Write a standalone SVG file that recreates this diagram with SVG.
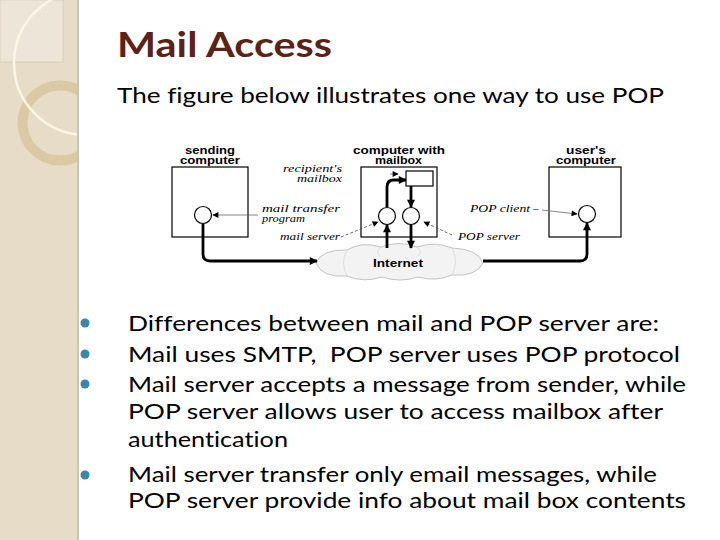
<svg xmlns="http://www.w3.org/2000/svg" width="720" height="540" viewBox="0 0 720 540">
<defs>
<clipPath id="side"><rect x="0" y="0" width="78" height="540"/></clipPath>
<marker id="ah" viewBox="0 0 10 10" refX="9" refY="5" markerWidth="9" markerHeight="8" markerUnits="userSpaceOnUse" orient="auto"><path d="M0,0 L10,5 L0,10 Z" fill="#000"/></marker>
<marker id="ahs" viewBox="0 0 10 10" refX="9" refY="5" markerWidth="7" markerHeight="6" markerUnits="userSpaceOnUse" orient="auto"><path d="M0,0 L10,5 L0,10 Z" fill="#000"/></marker>
</defs>
<style>
text{font-variant-ligatures:none}
.title{font-family:"Lato","Open Sans",sans-serif;font-weight:bold;font-size:34px;fill:#5a2317}
.sub{font-family:"Lato","Open Sans",sans-serif;font-size:22px;fill:#000}
.body{font-family:"Lato","Open Sans",sans-serif;font-size:22px;fill:#000}
.lbl{font-family:"Liberation Sans",Arial,sans-serif;font-weight:bold;font-size:10px;fill:#000}
.it{font-family:"Liberation Serif","Times New Roman",serif;font-style:italic;font-size:11px;fill:#000}
.it2{font-family:"Liberation Serif","Times New Roman",serif;font-style:italic;font-size:9.5px;fill:#000}
.box{fill:#fff;stroke:#000;stroke-width:1.2}
.node{fill:#fff;stroke:#000;stroke-width:1.2}
.thick{fill:none;stroke:#000;stroke-width:2.8;marker-end:url(#ah)}
.thin{fill:none;stroke:#666;stroke-width:0.8;marker-end:url(#ahs)}
.dash{fill:none;stroke:#444;stroke-width:0.8;stroke-dasharray:3 2;marker-end:url(#ahs)}
.bul{fill:#3a87a6}
</style>
<rect width="720" height="540" fill="#fff"/>
<g id="sidebar">
<rect x="0" y="0" width="78" height="540" fill="#e6dcc8"/>
<g clip-path="url(#side)">
<rect x="0" y="0" width="63" height="62" fill="#ede6d8" stroke="#cfc3aa" stroke-width="0.6"/>
<circle cx="60" cy="123" r="37.5" fill="none" stroke="#dbc9a3" stroke-width="10"/>
<circle cx="86" cy="63" r="72" fill="none" stroke="#fbf6e6" stroke-width="2.5"/>
</g>
<rect x="77" y="0" width="2" height="540" fill="#cbc3b3"/>
</g>
<g id="title"><text class="title" x="117" y="57" textLength="215" lengthAdjust="spacingAndGlyphs">Mail Access</text></g>
<g id="subtitle"><text class="sub" x="117" y="103" textLength="547" lengthAdjust="spacingAndGlyphs">The figure below illustrates one way to use POP</text></g>

<g id="sending">
<text class="lbl" x="185" y="154" textLength="50" lengthAdjust="spacingAndGlyphs">sending</text>
<text class="lbl" x="180" y="164" textLength="60" lengthAdjust="spacingAndGlyphs">computer</text>
<rect class="box" x="172" y="167" width="76" height="70"/>
<ellipse class="node" cx="203" cy="215" rx="8.5" ry="8.5"/>
</g>
<g id="mailbox-computer">
<text class="lbl" x="353" y="154" textLength="92" lengthAdjust="spacingAndGlyphs">computer with</text>
<text class="lbl" x="375" y="164" textLength="47" lengthAdjust="spacingAndGlyphs">mailbox</text>
<rect class="box" x="361" y="167" width="76" height="70"/>
<rect class="box" x="406" y="171" width="27" height="15"/>
<ellipse class="node" cx="387" cy="216" rx="8.5" ry="8.5"/>
<ellipse class="node" cx="411" cy="216" rx="8.5" ry="8.5"/>
</g>
<g id="user-computer">
<text class="lbl" x="566" y="154" textLength="40" lengthAdjust="spacingAndGlyphs">user's</text>
<text class="lbl" x="556" y="164" textLength="60" lengthAdjust="spacingAndGlyphs">computer</text>
<rect class="box" x="549" y="167" width="72" height="70"/>
<ellipse class="node" cx="587" cy="214" rx="8.5" ry="8.5"/>
</g>
<g id="internet">
<path d="M316,263 Q322,249 347,250 Q362,241 381,247 Q399,240 417,247 Q435,241 452,248 Q478,249 483,263 Q476,277 452,275 Q436,282 418,277 Q400,283 382,277 Q364,283 347,276 Q322,278 316,263 Z" fill="#f3f3f3" stroke="#b5b5b5" stroke-width="0.8"/>
<path d="M347,250 Q340,262 347,276 M452,248 Q459,262 452,275 M381,247 Q375,252 380,256 M417,247 Q423,252 418,256" fill="none" stroke="#cfcfcf" stroke-width="0.6"/>
<text class="lbl" x="373" y="267" font-size="12px" textLength="50" lengthAdjust="spacingAndGlyphs">Internet</text>
</g>
<g id="labels">
<text class="it2" x="283" y="172" textLength="59" lengthAdjust="spacingAndGlyphs">recipient's</text>
<text class="it2" x="297" y="182" textLength="45" lengthAdjust="spacingAndGlyphs">mailbox</text>
<text class="it2" x="262" y="212" textLength="78" lengthAdjust="spacingAndGlyphs">mail transfer</text>
<text class="it2" x="262" y="222" textLength="43" lengthAdjust="spacingAndGlyphs">program</text>
<text class="it" x="280" y="240" textLength="60" lengthAdjust="spacingAndGlyphs">mail server</text>
<text class="it" x="458" y="240" textLength="62" lengthAdjust="spacingAndGlyphs">POP server</text>
<text class="it" x="470" y="212" textLength="60" lengthAdjust="spacingAndGlyphs">POP client</text>
<text class="it" x="533" y="212">–</text>
</g>
<g id="connectors">
<path class="thick" d="M203,224 V254 Q203,261 210,261 H317"/>
<path class="thick" d="M387,248 V225"/>
<path class="thick" d="M387,207 V187 Q387,180 394,180 H406"/>
<path class="thick" d="M411,186 V207"/>
<path class="thick" d="M411,225 V248"/>
<path class="thick" d="M483,261 H580 Q587,261 587,254 V223"/>
<path class="thin" d="M258,215 H213"/>
<path class="dash" d="M341,237 L378,222"/>
<path class="dash" d="M452,235 L424,222"/>
<path class="thin" d="M542,210 L577,214"/>
<path class="thin" d="M390,174 H398"/>
</g>
<g id="bullets">
<circle class="bul" cx="85" cy="323" r="4.5"/>
<circle class="bul" cx="85" cy="354" r="4.5"/>
<circle class="bul" cx="85" cy="384" r="4.5"/>
<circle class="bul" cx="85" cy="475" r="4.5"/>
<text class="body" x="128" y="331" textLength="531" lengthAdjust="spacingAndGlyphs">Differences between mail and POP server are:</text>
<text class="body" x="128" y="362" textLength="552" lengthAdjust="spacingAndGlyphs" xml:space="preserve">Mail uses SMTP,  POP server uses POP protocol</text>
<text class="body" x="128" y="392" textLength="558" lengthAdjust="spacingAndGlyphs">Mail server accepts a message from sender, while</text>
<text class="body" x="128" y="419" font-size="21px" textLength="535" lengthAdjust="spacingAndGlyphs">POP server allows user to access mailbox after</text>
<text class="body" x="128" y="447" font-size="20px" textLength="160" lengthAdjust="spacingAndGlyphs">authentication</text>
<text class="body" x="128" y="482" textLength="529" lengthAdjust="spacingAndGlyphs">Mail server transfer only email messages, while</text>
<text class="body" x="128" y="508" textLength="558" lengthAdjust="spacingAndGlyphs">POP server provide info about mail box contents</text>
</g>
</svg>
